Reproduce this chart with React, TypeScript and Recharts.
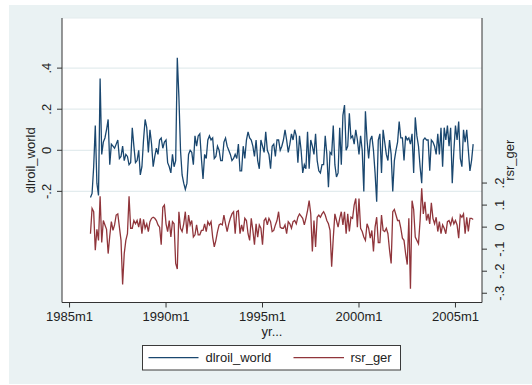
import React from 'react';
import { CartesianGrid, Line, LineChart, XAxis, YAxis } from 'recharts';

// Stata monthly dates: 1960m1 = 0, so 1986m2 = 313
const firstMonth = 313;

// dlroil_world, one row per year (1986 starts in February)
const dlroilWorld = [
  -0.23, -0.21, -0.08, 0.12, -0.16, -0.22, 0.35, -0.02, 0.04, 0.06, 0.1,
  0.15, -0.07, 0.03, 0.02, 0.01, 0.03, 0.05, -0.04, -0.03, 0.02, -0.05, -0.02,
  -0.03, -0.07, -0.06, 0.11, 0.02, -0.06, -0.05, 0.0, -0.12, -0.08, 0.05, 0.15,
  0.11, -0.01, 0.1, 0.03, -0.08, -0.03, 0.01, -0.02, 0.05, 0.06, 0.01, 0.04,
  0.05, -0.06, -0.08, -0.11, -0.02, -0.08, -0.05, 0.45, 0.26, 0.0, -0.12, -0.16,
  -0.19, -0.16, -0.02, 0.0, -0.01, -0.07, 0.07, 0.02, 0.07, 0.08, -0.04, -0.14,
  -0.02, -0.04, 0.05, 0.07, 0.05, 0.06, -0.04, -0.03, 0.02, 0.0, -0.05, -0.05,
  0.04, 0.06, 0.02, 0.0, -0.02, -0.05, -0.04, -0.02, -0.04, 0.03, -0.1, -0.1,
  0.02, -0.04, 0.05, 0.09, 0.06, 0.05, 0.02, -0.03, 0.05, -0.05, -0.09, 0.05,
  0.02, -0.01, 0.09, 0.0, -0.02, -0.09, 0.02, 0.03, -0.03, 0.05, 0.05, 0.0,
  0.02, 0.05, 0.1, 0.05, -0.01, 0.03, 0.08, 0.05, 0.1, 0.07, -0.06, 0.07,
  0.0, -0.11, -0.07, -0.09, 0.09, -0.09, 0.05, 0.02, -0.02, 0.08, -0.05, -0.1,
  -0.11, -0.07, -0.07, 0.07, -0.02, -0.18, -0.01, -0.02, 0.12, -0.07, -0.13, -0.11,
  0.11, -0.07, 0.17, 0.22, 0.0, 0.02, 0.18, 0.06, 0.07, 0.03, 0.1, 0.05,
  -0.02, 0.07, 0.0, -0.2, 0.19, 0.05, -0.04, 0.05, 0.07, 0.0, -0.11, -0.25,
  0.05, 0.08, -0.11, 0.1, 0.04, -0.02, -0.05, 0.05, -0.02, -0.2, -0.05, 0.0,
  0.04, 0.14, 0.06, 0.06, -0.05, 0.07, 0.05, 0.06, 0.03, 0.08, -0.11, 0.16,
  0.07, 0.02, -0.08, -0.16, 0.05, 0.06, 0.05, 0.05, -0.1, 0.05, 0.04, 0.02,
  -0.02, 0.08, -0.02, 0.11, -0.08, 0.11, 0.05, 0.12, 0.02, 0.11, -0.16, 0.0,
  0.12, 0.05, 0.14, -0.04, -0.08, 0.1, 0.04, 0.1, 0.0, -0.1, -0.05, 0.03,
];

// rsr_ger, same months
const rsrGer = [
  -0.03, 0.085, 0.07, -0.105, -0.01, -0.06, 0.14, -0.07, 0.03, 0.01, -0.01,
  -0.12, -0.04, 0.025, -0.015, 0.01, 0.055, 0.06, 0.0, -0.06, -0.26, -0.12, -0.06,
  -0.03, 0.14, -0.005, -0.005, 0.03, 0.015, 0.03, 0.0, 0.04, -0.03, 0.035, -0.005,
  0.015, -0.02, 0.025, 0.04, 0.045, 0.04, 0.03, 0.01, 0.0, -0.08, 0.09, 0.1,
  0.015, -0.02, 0.03, -0.045, 0.025, 0.015, -0.165, -0.19, 0.07, -0.005, -0.02, 0.015,
  0.07, -0.03, 0.055, 0.01, 0.03, -0.045, -0.035, 0.01, -0.035, -0.035, -0.015, -0.015,
  0.015, -0.02, 0.025, 0.01, 0.025, -0.045, -0.09, -0.06, -0.02, 0.01, 0.015, 0.01,
  0.055, 0.015, -0.02, 0.015, 0.04, 0.06, 0.07, -0.03, 0.07, 0.075, -0.03, 0.01,
  -0.02, 0.04, 0.03, -0.03, -0.06, 0.04, -0.015, -0.08, 0.015, -0.045, 0.01, -0.005,
  -0.08, 0.03, 0.04, 0.01, 0.04, 0.025, -0.02, -0.015, 0.01, 0.03, 0.07, 0.0,
  -0.005, -0.005, 0.01, -0.03, 0.025, 0.015, -0.005, 0.025, 0.03, 0.015, 0.045, 0.06,
  0.05, 0.04, 0.01, 0.04, 0.075, 0.12, 0.06, -0.11, 0.03, -0.09, 0.045, 0.055,
  0.045, 0.06, 0.07, 0.055, 0.03, 0.015, -0.015, -0.18, -0.05, 0.06, 0.03, 0.0,
  0.04, 0.07, 0.01, 0.07, -0.03, 0.06, -0.02, 0.045, 0.04, 0.1, 0.13, 0.0,
  0.13, -0.005, -0.02, -0.045, -0.06, 0.015, -0.005, -0.05, -0.015, -0.11, 0.0, 0.045,
  -0.07, -0.07, 0.055, -0.015, -0.02, -0.005, -0.03, -0.105, -0.165, 0.07, 0.08, 0.055,
  0.03, 0.03, -0.005, -0.05, -0.06, -0.12, -0.17, 0.04, -0.28, 0.12, 0.08, -0.045,
  -0.06, -0.075, 0.03, 0.176, 0.06, 0.115, 0.03, 0.06, 0.015, 0.11, 0.04, 0.015,
  0.045, -0.02, 0.025, -0.03, 0.01, -0.005, -0.03, 0.025, 0.03, 0.01, 0.04, 0.015,
  0.03, 0.01, -0.05, 0.055, 0.045, 0.06, -0.03, 0.045, -0.02, 0.04, 0.04, 0.035,
];

const xTicks = [300, 360, 420, 480, 540];
const leftTicks = [-0.2, 0, 0.2, 0.4];
const rightTicks = [-0.3, -0.2, -0.1, 0, 0.1, 0.2];

const data = dlroilWorld.map((v, i) => ({
  t: firstMonth + i,
  dlroil_world: v,
  rsr_ger: rsrGer[i],
}));

const BLUE = '#1a476f';
const RED = '#90353b';
const INK = '#222';
const AXIS = '#333';
const FONT = '"Liberation Sans", Arial, Helvetica, sans-serif';

const fmtMonth = (t: number) => `${1960 + Math.floor(t / 12)}m${(t % 12) + 1}`;
const fmtStata = (v: number) => {
  if (Math.abs(v) < 1e-9) return '0';
  const s = Math.abs(v).toFixed(1).replace(/^0/, '');
  return (v < 0 ? '-' : '') + s;
};

const LeftTick = (props: any) => {
  const { x, y, payload } = props;
  const bx = x - 4;
  return (
    <text x={bx} y={y} transform={`rotate(-90, ${bx}, ${y})`} textAnchor="middle"
      fontSize={13} fontFamily={FONT} fill={INK}>
      {fmtStata(payload.value)}
    </text>
  );
};

const RightTick = (props: any) => {
  const { x, y, payload } = props;
  const bx = x + 15;
  return (
    <text x={bx} y={y} transform={`rotate(-90, ${bx}, ${y})`} textAnchor="middle"
      fontSize={13} fontFamily={FONT} fill={INK}>
      {fmtStata(payload.value)}
    </text>
  );
};

const App = () => {
  return (
    <div style={{ position: 'absolute', left: 0, top: 0, width: 532, height: 385, background: '#fff', fontFamily: FONT }}>
      <div style={{ position: 'absolute', left: 9, top: 5, width: 523, height: 379, background: '#EAF2F3' }} />
      <div style={{ position: 'absolute', left: 0, top: 0 }}>
        <LineChart width={532} height={385} data={data}
          margin={{ top: 18, right: 0, bottom: 52.5, left: 0 }}>
          <CartesianGrid yAxisId="left" vertical={false} fill="#fff" stroke="#E3ECEE" strokeWidth={1.2} />
          <XAxis dataKey="t" type="number" domain={[295.3, 556.5]} allowDataOverflow ticks={xTicks}
            interval={0} tickFormatter={fmtMonth} height={30} tickSize={5} tickMargin={4}
            stroke={AXIS} tick={{ fontSize: 13, fill: INK, fontFamily: FONT }}
            label={({ viewBox }: any) => (
              <text x={viewBox.x + viewBox.width / 2} y={viewBox.y + 33.5} textAnchor="middle"
                fontSize={13} fontFamily={FONT} fill={INK}>yr...</text>
            )} />
          <YAxis yAxisId="left" orientation="left" domain={[-0.741, 0.644]} allowDataOverflow
            ticks={leftTicks} interval={0} width={62} tickSize={5} stroke={AXIS} tick={<LeftTick />}
            label={({ viewBox }: any) => {
              const cx = viewBox.x + 35;
              const cy = viewBox.y + viewBox.height / 2;
              return (
                <text x={cx} y={cy} transform={`rotate(-90, ${cx}, ${cy})`} textAnchor="middle"
                  fontSize={13} fontFamily={FONT} fill={INK}>dlroil_world</text>
              );
            }} />
          <YAxis yAxisId="right" orientation="right" domain={[-0.342, 0.949]} allowDataOverflow
            ticks={rightTicks} interval={0} width={50} tickSize={5} stroke={AXIS} tick={<RightTick />}
            label={({ viewBox }: any) => {
              const cx = viewBox.x + 31.5;
              const cy = viewBox.y + viewBox.height / 2;
              return (
                <text x={cx} y={cy} transform={`rotate(-90, ${cx}, ${cy})`} textAnchor="middle"
                  fontSize={13} fontFamily={FONT} fill={INK}>rsr_ger</text>
              );
            }} />
          <Line yAxisId="left" type="linear" dataKey="dlroil_world" stroke={BLUE} strokeWidth={1.3}
            dot={false} isAnimationActive={false} />
          <Line yAxisId="right" type="linear" dataKey="rsr_ger" stroke={RED} strokeWidth={1.3}
            dot={false} isAnimationActive={false} />
        </LineChart>
      </div>
      <svg width={532} height={385} style={{ position: 'absolute', left: 0, top: 0, pointerEvents: 'none' }}>
        <rect x={142.5} y={345.5} width={258} height={24.5} fill="#fff" stroke="#3a3a3a" strokeWidth={1} />
        <line x1={148.5} x2={198.5} y1={357.7} y2={357.7} stroke={BLUE} strokeWidth={1.3} />
        <text x={205.5} y={362.3} fontSize={13} fontFamily={FONT} fill={INK}>dlroil_world</text>
        <line x1={293.5} x2={344} y1={357.7} y2={357.7} stroke={RED} strokeWidth={1.3} />
        <text x={350.5} y={362.3} fontSize={13} fontFamily={FONT} fill={INK}>rsr_ger</text>
      </svg>
    </div>
  );
};

export default App;
